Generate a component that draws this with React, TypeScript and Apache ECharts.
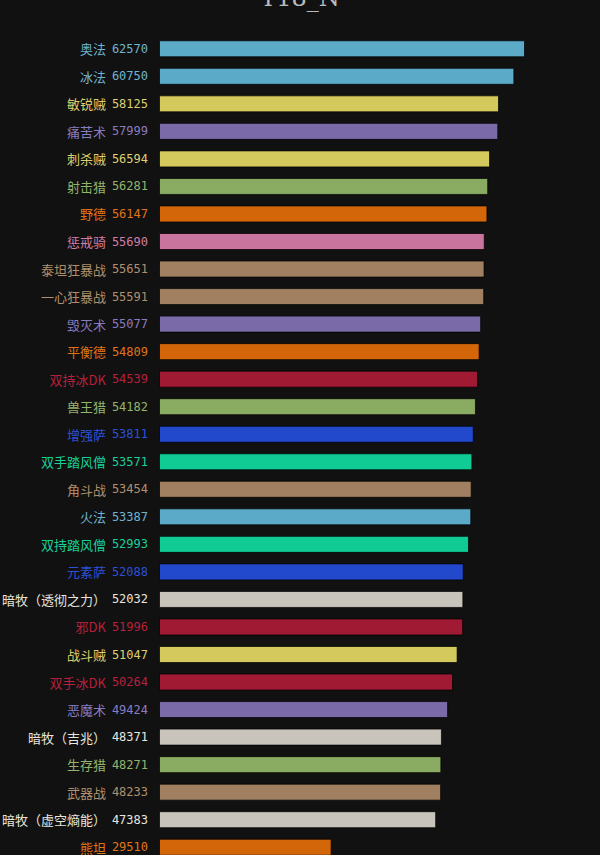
import React, { useEffect, useRef } from "react";
import * as echarts from "echarts";

const titleText = "T18_N";

const categories = [
  "奥法", "冰法", "敏锐贼", "痛苦术", "刺杀贼", "射击猎", "野德", "惩戒骑", "泰坦狂暴战", "一心狂暴战",
  "毁灭术", "平衡德", "双持冰DK", "兽王猎", "增强萨", "双手踏风僧", "角斗战", "火法", "双持踏风僧", "元素萨",
  "暗牧（透彻之力）", "邪DK", "战斗贼", "双手冰DK", "恶魔术", "暗牧（吉兆）", "生存猎", "武器战", "暗牧（虚空熵能）", "熊坦",
];

const values = [
  62570, 60750, 58125, 57999, 56594, 56281, 56147, 55690, 55651, 55591,
  55077, 54809, 54539, 54182, 53811, 53571, 53454, 53387, 52993, 52088,
  52032, 51996, 51047, 50264, 49424, 48371, 48271, 48233, 47383, 29510,
];

const classes = [
  "mage", "mage", "rogue", "warlock", "rogue", "hunter", "druid", "paladin", "warrior", "warrior",
  "warlock", "druid", "dk", "hunter", "shaman", "monk", "warrior", "mage", "monk", "shaman",
  "priest", "dk", "rogue", "dk", "warlock", "priest", "hunter", "warrior", "priest", "druid",
];

const classColors: Record<string, string> = {
  mage: "#5aaac8",
  rogue: "#d4c95c",
  warlock: "#7b6aa8",
  hunter: "#8aab62",
  druid: "#d4660a",
  paladin: "#c8749c",
  warrior: "#a08060",
  dk: "#a01a34",
  shaman: "#2248cc",
  monk: "#10cc94",
  priest: "#c8c4bc",
};

const labelColors: Record<string, string> = {
  mage: "#70b4d0",
  rogue: "#dcd070",
  warlock: "#8a7cc0",
  hunter: "#94b46c",
  druid: "#e07418",
  paladin: "#d27ea6",
  warrior: "#b0906e",
  dk: "#b8203c",
  shaman: "#2c50d8",
  monk: "#18d09c",
  priest: "#e8e6de",
};

export default function App() {
  const ref = useRef<HTMLDivElement>(null);
  useEffect(() => {
    if (!ref.current) return;
    const chart = echarts.init(ref.current, null, { renderer: "svg" });
    const rich: Record<string, any> = {};
    Object.keys(labelColors).forEach((k) => {
      rich["n_" + k] = {
        color: labelColors[k],
        fontSize: 13,
        fontFamily: "Noto Sans CJK SC",
      };
      rich["v_" + k] = {
        color: labelColors[k],
        fontSize: 12,
        fontFamily: "DejaVu Sans Mono",
        padding: [0, 0, 0, 6],
      };
    });
    chart.setOption({
      animation: false,
      backgroundColor: "#111111",
      title: {
        text: titleText,
        left: "center",
        top: -19,
        textStyle: {
          color: "#bbbbbb",
          fontSize: 24,
          fontWeight: "normal",
          fontFamily: "DejaVu Serif",
        },
      },
      grid: { left: 159, right: 75, top: 35, height: 826, outerBoundsMode: "none", containLabel: false },
      xAxis: {
        type: "value",
        min: 0,
        max: 62570,
        show: false,
      },
      yAxis: {
        type: "category",
        inverse: true,
        data: categories,
        axisLine: { show: false },
        axisTick: { show: false },
        splitLine: { show: false },
        axisLabel: {
          margin: 11,
          formatter: (value: string, index: number) => {
            const c = classes[index];
            return `{n_${c}|${value}}{v_${c}|${values[index]}}`;
          },
          rich,
        },
      },
      series: [
        {
          type: "bar",
          barWidth: 17,
          data: values.map((v, i) => ({
            value: v,
            itemStyle: {
              color: classColors[classes[i]],
              borderColor: "rgba(0,0,0,0.7)",
              borderWidth: 1,
            },
          })),
        },
      ],
    });
    return () => chart.dispose();
  }, []);
  return (
    <div
      ref={ref}
      style={{ position: "fixed", left: 0, top: 0, width: 600, height: 855 }}
    />
  );
}
